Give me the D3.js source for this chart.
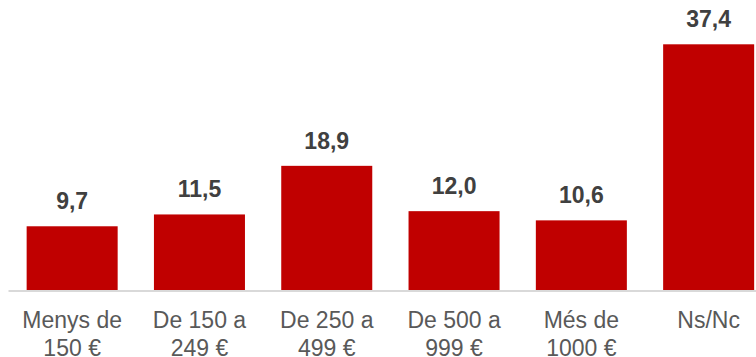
<!DOCTYPE html>
<html>
<head>
<meta charset="utf-8">
<script src="https://cdn.jsdelivr.net/npm/d3@7"></script>
<style>
  html, body { margin: 0; padding: 0; background: #fff; }
  svg { display: block; font-family: "Liberation Sans", Arial, sans-serif; }
</style>
</head>
<body>
<svg id="chart" width="756" height="357"></svg>
<script>
// Household spending brackets and share of responses (%)
const categories = ["Menys de\n150 €", "De 150 a\n249 €", "De 250 a\n499 €", "De 500 a\n999 €", "Més de\n1000 €", "Ns/Nc"];
const values = [9.7, 11.5, 18.9, 12.0, 10.6, 37.4];
const valueLabels = ["9,7", "11,5", "18,9", "12,0", "10,6", "37,4"];

const width = 756, height = 357;
const baseline = 290;

const svg = d3.select("#chart");

const x = d3.scaleBand()
  .domain(categories)
  .range([8.5, 772.3])
  .paddingInner(0.285)
  .paddingOuter(0.1425);

const y = d3.scaleLinear()
  .domain([0, 37.4])
  .range([baseline, 44.3]);

// Bars
svg.append("g")
  .selectAll("rect")
  .data(values)
  .join("rect")
  .attr("x", (d, i) => x(categories[i]))
  .attr("width", x.bandwidth())
  .attr("y", d => y(d))
  .attr("height", d => y(0) - y(d))
  .attr("fill", "#C00000");

// Baseline
svg.append("line")
  .attr("x1", 8.5).attr("x2", width)
  .attr("y1", baseline + 1).attr("y2", baseline + 1)
  .attr("stroke", "#D9D9D9")
  .attr("stroke-width", 2);

// Value labels
svg.append("g")
  .selectAll("text")
  .data(values)
  .join("text")
  .attr("x", (d, i) => x(categories[i]) + x.bandwidth() / 2)
  .attr("y", d => y(d) - 17)
  .attr("text-anchor", "middle")
  .attr("font-size", 23)
  .attr("font-weight", "bold")
  .attr("fill", "#404040")
  .text((d, i) => valueLabels[i]);

// Category axis with two-line labels
const axis = svg.append("g")
  .attr("transform", `translate(0,${baseline})`)
  .call(d3.axisBottom(x).tickSize(0).tickFormat(() => ""));
axis.select(".domain").remove();

axis.selectAll(".tick text")
  .attr("y", 0).attr("dy", null)
  .attr("font-size", 23)
  .attr("font-family", "\"Liberation Sans\", Arial, sans-serif")
  .attr("fill", "#595959")
  .each(function(d) {
    const t = d3.select(this);
    d.split("\n").forEach((line, k) => {
      t.append("tspan")
        .attr("x", 0)
        .attr("y", 38 + k * 27.5)
        .text(line);
    });
  });
</script>
</body>
</html>
